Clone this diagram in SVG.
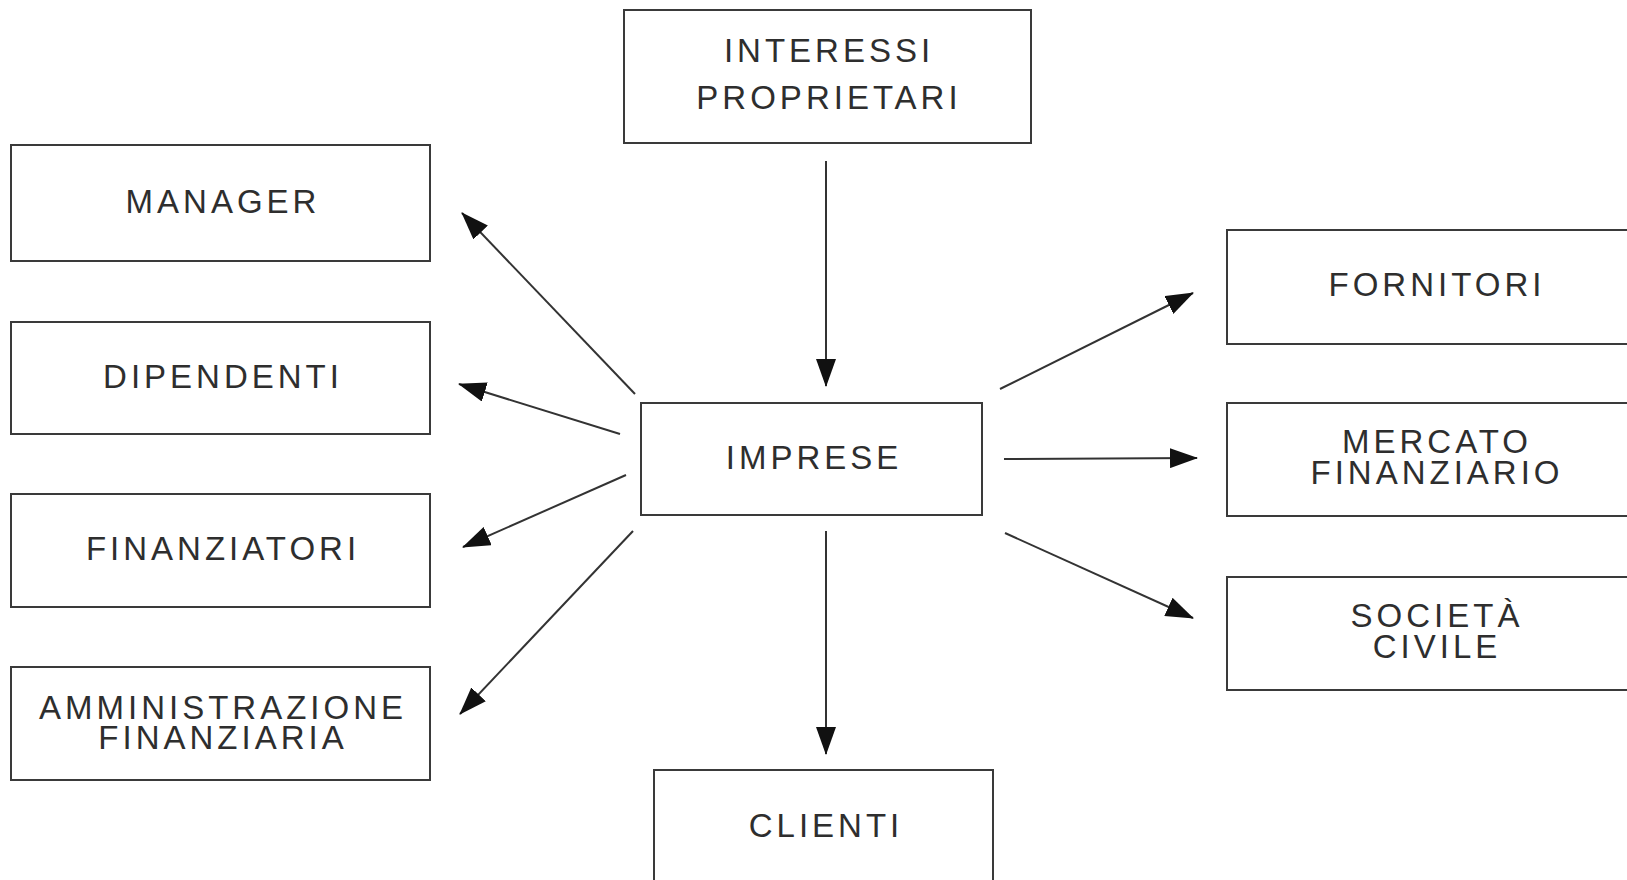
<svg xmlns="http://www.w3.org/2000/svg" width="1627" height="880" viewBox="0 0 1627 880">
<style>
.box{fill:#fff;stroke:#3a3a3a;stroke-width:2}
.lbl{font-family:"Liberation Sans",Arial,sans-serif;font-size:33px;letter-spacing:4px;fill:#2e2e2e;text-anchor:middle}
.con{stroke:#333;stroke-width:2;fill:none;marker-end:url(#ah)}
</style>
<defs>
<marker id="ah" markerUnits="userSpaceOnUse" markerWidth="28" markerHeight="20" viewBox="0 0 28 20" refX="27" refY="10" orient="auto">
<path d="M0,0 L28,10 L0,20 Z" fill="#111"/>
</marker>
</defs>
<rect width="1627" height="880" fill="#fff"/>
<g id="interessi">
<rect class="box" x="624" y="10" width="407" height="133"/>
<text class="lbl" x="829" y="62">INTERESSI</text>
<text class="lbl" x="829" y="109">PROPRIETARI</text>
</g>
<g id="manager">
<rect class="box" x="11" y="145" width="419" height="116"/>
<text class="lbl" x="223" y="213">MANAGER</text>
</g>
<g id="dipendenti">
<rect class="box" x="11" y="322" width="419" height="112"/>
<text class="lbl" x="223" y="388">DIPENDENTI</text>
</g>
<g id="finanziatori">
<rect class="box" x="11" y="494" width="419" height="113"/>
<text class="lbl" x="223" y="560">FINANZIATORI</text>
</g>
<g id="amministrazione">
<rect class="box" x="11" y="667" width="419" height="113"/>
<text class="lbl" x="223" y="719">AMMINISTRAZIONE</text>
<text class="lbl" x="223" y="749">FINANZIARIA</text>
</g>
<g id="imprese">
<rect class="box" x="641" y="403" width="341" height="112"/>
<text class="lbl" x="814" y="469">IMPRESE</text>
</g>
<g id="clienti">
<rect class="box" x="654" y="770" width="339" height="120"/>
<text class="lbl" x="826" y="837">CLIENTI</text>
</g>
<g id="fornitori">
<rect class="box" x="1227" y="230" width="420" height="114"/>
<text class="lbl" x="1437" y="296">FORNITORI</text>
</g>
<g id="mercato">
<rect class="box" x="1227" y="403" width="420" height="113"/>
<text class="lbl" x="1437" y="453">MERCATO</text>
<text class="lbl" x="1437" y="484">FINANZIARIO</text>
</g>
<g id="societa">
<rect class="box" x="1227" y="577" width="420" height="113"/>
<text class="lbl" x="1437" y="627">SOCIETÀ</text>
<text class="lbl" x="1437" y="658">CIVILE</text>
</g>
<g id="connectors">
<line class="con" x1="826" y1="161" x2="826" y2="386"/>
<line class="con" x1="826" y1="531" x2="826" y2="754"/>
<line class="con" x1="635" y1="394" x2="462" y2="213"/>
<line class="con" x1="620" y1="434" x2="459" y2="384"/>
<line class="con" x1="626" y1="475" x2="463" y2="547"/>
<line class="con" x1="633" y1="531" x2="460" y2="714"/>
<line class="con" x1="1000" y1="389" x2="1193" y2="293"/>
<line class="con" x1="1004" y1="459" x2="1197" y2="458"/>
<line class="con" x1="1005" y1="533" x2="1193" y2="618"/>
</g>
</svg>
